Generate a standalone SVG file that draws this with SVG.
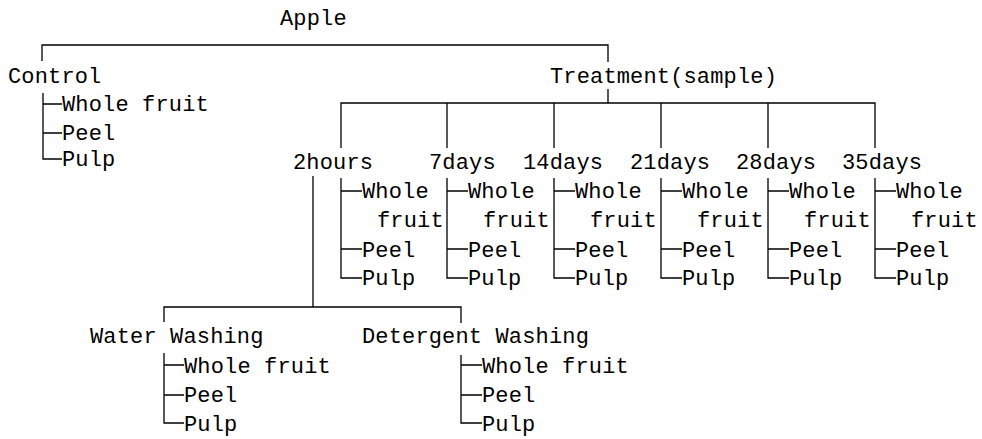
<svg xmlns="http://www.w3.org/2000/svg" width="982" height="439" viewBox="0 0 982 439">
<style>
text{font-family:"Liberation Mono","DejaVu Sans Mono",monospace;font-size:22px;fill:#000;letter-spacing:0.15px}
.c{fill:none;stroke:#000;stroke-width:1.3}
</style>
<rect width="982" height="439" fill="#fff"/>
<g id="connectors" class="c">
<path d="M42,61V45H608V62"/>
<path d="M43,93V159H62M43,104H62M43,133H62"/>
<path d="M608,89V103M341,148V103H875V148M447,103V148M554,103V148M661,103V148M768,103V148"/>
<path d="M341,178V278H362M341,191H362M341,249H362"/>
<path d="M447,178V278H468M447,191H468M447,249H468"/>
<path d="M554,178V278H575M554,191H575M554,249H575"/>
<path d="M661,178V278H682M661,191H682M661,249H682"/>
<path d="M768,178V278H789M768,191H789M768,249H789"/>
<path d="M875,178V278H896M875,191H896M875,249H896"/>
<path d="M313,176V307M164,322V307H461V323"/>
<path d="M164,353V423H184M164,365H184M164,395H184"/>
<path d="M461,355V423H482M461,365H482M461,395H482"/>
</g>
<g id="apple"><text x="280" y="25">Apple</text></g>
<g id="control"><text x="8" y="83">Control</text></g>
<g id="control-items"><text x="62" y="111">Whole fruit</text><text x="62" y="140">Peel</text><text x="62" y="166">Pulp</text></g>
<g id="treatment"><text x="550" y="83">Treatment(sample)</text></g>
<g id="t2hours"><text x="293" y="169">2hours</text><text x="362" y="198">Whole</text><text x="377" y="227">fruit</text><text x="362" y="257">Peel</text><text x="362" y="285">Pulp</text></g>
<g id="t7days"><text x="429" y="169">7days</text><text x="468" y="198">Whole</text><text x="483" y="227">fruit</text><text x="468" y="257">Peel</text><text x="468" y="285">Pulp</text></g>
<g id="t14days"><text x="523" y="169">14days</text><text x="575" y="198">Whole</text><text x="590" y="227">fruit</text><text x="575" y="257">Peel</text><text x="575" y="285">Pulp</text></g>
<g id="t21days"><text x="630" y="169">21days</text><text x="682" y="198">Whole</text><text x="697" y="227">fruit</text><text x="682" y="257">Peel</text><text x="682" y="285">Pulp</text></g>
<g id="t28days"><text x="736" y="169">28days</text><text x="789" y="198">Whole</text><text x="804" y="227">fruit</text><text x="789" y="257">Peel</text><text x="789" y="285">Pulp</text></g>
<g id="t35days"><text x="842" y="169">35days</text><text x="896" y="198">Whole</text><text x="911" y="227">fruit</text><text x="896" y="257">Peel</text><text x="896" y="285">Pulp</text></g>
<g id="water"><text x="90" y="343">Water Washing</text><text x="184" y="373">Whole fruit</text><text x="184" y="402">Peel</text><text x="184" y="431">Pulp</text></g>
<g id="detergent"><text x="362" y="343">Detergent Washing</text><text x="482" y="373">Whole fruit</text><text x="482" y="402">Peel</text><text x="482" y="431">Pulp</text></g>
</svg>
